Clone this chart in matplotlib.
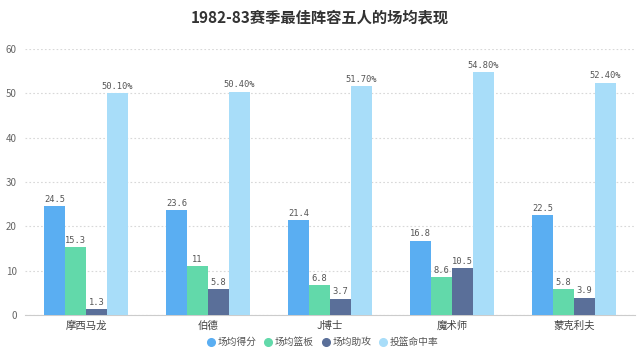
import matplotlib
matplotlib.use("Agg")
import matplotlib.pyplot as plt
from matplotlib.lines import Line2D
import numpy as np

plt.rcParams['font.family'] = ['Noto Sans CJK SC', 'DejaVu Sans']

title = "1982-83赛季最佳阵容五人的场均表现"
players = ["摩西马龙", "伯德", "J博士", "魔术师", "蒙克利夫"]
series_names = ["场均得分", "场均篮板", "场均助攻", "投篮命中率"]
points = [24.5, 23.6, 21.4, 16.8, 22.5]
rebounds = [15.3, 11, 6.8, 8.6, 5.8]
assists = [1.3, 5.8, 3.7, 10.5, 3.9]
fg_pct = [50.10, 50.40, 51.70, 54.80, 52.40]
point_labels = ["24.5", "23.6", "21.4", "16.8", "22.5"]
reb_labels = ["15.3", "11", "6.8", "8.6", "5.8"]
ast_labels = ["1.3", "5.8", "3.7", "10.5", "3.9"]
fg_labels = ["50.10%", "50.40%", "51.70%", "54.80%", "52.40%"]
yticks = [0, 10, 20, 30, 40, 50, 60]

colors = ["#5AAEF2", "#62D9AA", "#5A6F99", "#A8DDF9"]

fig = plt.figure(figsize=(6.4, 3.59), dpi=100)
ax = fig.add_axes([25/640, 1-315/359, 610/640, (315-49)/359])

x = np.arange(len(players))
w = 0.172
all_vals = [points, rebounds, assists, fg_pct]
all_labels = [point_labels, reb_labels, ast_labels, fg_labels]
for i, (vals, labs) in enumerate(zip(all_vals, all_labels)):
    pos = x + (i - 1.5) * w
    ax.bar(pos, vals, width=w, color=colors[i], label=series_names[i], zorder=3)
    for p, v, l in zip(pos, vals, labs):
        ax.text(p, v + 0.5, l, ha="center", va="bottom",
                fontsize=6.3, color="#555555", family=["DejaVu Sans Mono"], zorder=4)

ax.set_xlim(-0.5, len(players) - 0.5)
ax.set_ylim(0, 60)
ax.set_yticks(yticks)
ax.set_xticks(x)
ax.set_xticklabels(players, fontsize=7.5, color="#444444")
ax.tick_params(axis="y", labelsize=7, colors="#666666", length=0, pad=6)
ax.tick_params(axis="x", length=0, pad=4)
ax.grid(axis="y", linestyle=(0, (1.5, 2)), color="#d8d8d8", linewidth=0.8, zorder=0)
for s in ["top", "right", "left"]:
    ax.spines[s].set_visible(False)
ax.spines["bottom"].set_color("#cccccc")
ax.spines["bottom"].set_linewidth(0.8)

fig.text(0.5, 1 - 17/359, title, ha="center", va="center", fontsize=11,
         fontweight="bold", color="#333333")

handles = [Line2D([0], [0], marker="o", linestyle="", markersize=5.5,
                  markerfacecolor=c, markeredgecolor=c) for c in colors]
fig.legend(handles, series_names, loc="center", bbox_to_anchor=(323/640, 1 - 342/359),
           ncol=4, frameon=False, fontsize=7, handlelength=0.7,
           columnspacing=0.9, handletextpad=0.3, labelcolor="#555555")

fig.savefig("out.png", dpi=100)
